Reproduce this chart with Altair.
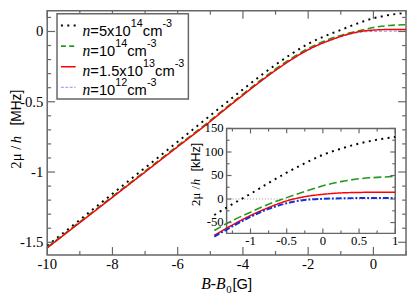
import altair as alt
import pandas as pd

# ---------------- data ----------------
B = [-10, -9, -8, -7, -6, -5, -4.5, -4, -3.5, -3, -2.5, -2, -1.5, -1.33, -1,
     -0.75, -0.5, -0.25, 0, 0.25, 0.5, 0.75, 1]
# 2mu/h in MHz
mu_5e14 = [-1.525, -1.34, -1.155, -0.97, -0.785, -0.598, -0.505, -0.412, -0.322,
           -0.237, -0.158, -0.088, -0.034, -0.018, 0.011, 0.034, 0.056, 0.076,
           0.094, 0.107, 0.118, 0.126, 0.132]
mu_1e14 = [-1.535, -1.354, -1.174, -0.994, -0.813, -0.633, -0.538, -0.445, -0.354,
           -0.267, -0.189, -0.121, -0.067, -0.052, -0.028, -0.011, 0.003, 0.016,
           0.028, 0.037, 0.043, 0.046, 0.048]
mu_15e13 = [-1.54, -1.36, -1.18, -1.0, -0.82, -0.64, -0.545, -0.453, -0.362,
            -0.276, -0.198, -0.13, -0.077, -0.062, -0.035, -0.018, -0.004, 0.005,
            0.010, 0.013, 0.014, 0.0145, 0.0145]
mu_1e12 = [-1.542, -1.362, -1.182, -1.002, -0.822, -0.642, -0.547, -0.455, -0.365,
           -0.279, -0.201, -0.133, -0.08, -0.065, -0.038, -0.021, -0.009, -0.002,
           0.0005, 0.0015, 0.002, 0.002, 0.002]
series = [mu_5e14, mu_1e14, mu_15e13, mu_1e12]
legend_mant = ["=5x10", "=10", "=1.5x10", "=10"]
legend_exp = ["14", "14", "13", "12"]

main_x_major = [-10, -8, -6, -4, -2, 0]
main_x_major_lab = ["-10", "-8", "-6", "-4", "-2", "0"]
main_x_minor = [-9, -7, -5, -3, -1, 1]
main_y_major = [-1.5, -1, -0.5, 0]
main_y_major_lab = ["-1.5", "-1", "-0.5", "0"]
main_y_minor = [-1.4, -1.3, -1.2, -1.1, -0.9, -0.8, -0.7, -0.6, -0.4, -0.3, -0.2, -0.1, 0.1]

in_x_major = [-1, -0.5, 0, 0.5, 1]
in_x_major_lab = ["-1", "-0.5", "0", "0.5", "1"]
in_x_minor = [-1.25, -0.75, -0.25, 0.25, 0.75]
in_y_major = [-50, 0, 50, 100, 150]
in_y_major_lab = ["-50", "0", "50", "100", "150"]
in_y_minor = [-25, 25, 75, 125]

# ---------------- styles ----------------
W, H = 366, 249
FRAME = "#666666"
SERIF = "Liberation Serif"
SANS = "Liberation Sans"
colors = ["#000000", "#1f9a1f", "#ff0000", "#8c8cff"]
dashes = [[2, 4.5], [7, 3.5], [1, 0], [3, 2]]
widths = [2, 1.6, 1.5, 1]
inset_colors = ["#000000", "#1f9a1f", "#ff0000", "#1030e0"]
inset_dashes = [[2, 4.5], [8, 3.5], [1, 0], [6, 2, 2, 2]]
inset_widths = [2, 1.6, 1.5, 2]

XM = alt.Scale(domain=[-10, 1], nice=False, zero=False)
YM = alt.Scale(domain=[-1.59, 0.147], nice=False, zero=False)
XI = alt.Scale(domain=[-1.33, 1], range=[183, 355], nice=False, zero=False)
YI = alt.Scale(domain=[-73, 150], range=[227, 120], nice=False, zero=False)

dummy = pd.DataFrame({"d": [0]})


def txt(s, x, y, size, font, style="normal", angle=0, align="left",
        baseline="alphabetic"):
    return alt.Chart(dummy).mark_text(
        text=s, font=font, fontSize=size, fontStyle=style, angle=angle,
        align=align, baseline=baseline, color="black"
    ).encode(x=alt.value(x), y=alt.value(y))


ARIAL = {"=": 0.584, ".": 0.278, "x": 0.5, "c": 0.5, "m": 0.833, "-": 0.333}


def sans_width(s, size):
    return sum(ARIAL.get(ch, 0.556) for ch in s) * size


def xticks(vals, scale, y0, y1):
    return alt.Chart(pd.DataFrame({"v": vals})).mark_rule(
        color=FRAME, strokeWidth=1.2).encode(
        x=alt.X("v:Q", scale=scale, axis=None), y=alt.value(y0), y2=alt.value(y1))


def yticks(vals, scale, x0, x1):
    return alt.Chart(pd.DataFrame({"v": vals})).mark_rule(
        color=FRAME, strokeWidth=1.2).encode(
        y=alt.Y("v:Q", scale=scale, axis=None), x=alt.value(x0), x2=alt.value(x1))


# ---------------- main panel ----------------
main_layers = []
for k in [0, 1, 3, 2]:
    df = pd.DataFrame({"B": B, "mu": series[k]})
    main_layers.append(
        alt.Chart(df).mark_line(color=colors[k], strokeDash=dashes[k],
                                strokeWidth=widths[k], interpolate="monotone",
                                clip=True)
        .encode(x=alt.X("B:Q", scale=XM, axis=None),
                y=alt.Y("mu:Q", scale=YM, axis=None))
    )

# ticks (inward, all four sides)
main_layers += [
    xticks(main_x_major, XM, H, H - 8), xticks(main_x_major, XM, 0, 8),
    xticks(main_x_minor, XM, H, H - 4), xticks(main_x_minor, XM, 0, 4),
    yticks(main_y_major, YM, 0, 8), yticks(main_y_major, YM, W, W - 8),
    yticks(main_y_minor, YM, 0, 4), yticks(main_y_minor, YM, W, W - 4),
]
main_layers.append(
    alt.Chart(pd.DataFrame({"v": main_x_major, "t": main_x_major_lab}))
    .mark_text(font=SERIF, fontSize=15, align="center", baseline="alphabetic")
    .encode(x=alt.X("v:Q", scale=XM, axis=None), y=alt.value(H + 14), text="t:N")
)
main_layers.append(
    alt.Chart(pd.DataFrame({"v": main_y_major, "t": main_y_major_lab}))
    .mark_text(font=SERIF, fontSize=15, align="right", baseline="middle")
    .encode(y=alt.Y("v:Q", scale=YM, axis=None), x=alt.value(-4), text="t:N")
)

# legend
main_layers.append(
    alt.Chart(dummy).mark_rect(fill="white", stroke=FRAME, strokeWidth=1.5)
    .encode(x=alt.value(10), x2=alt.value(144), y=alt.value(3), y2=alt.value(90))
)
sym_y = [15, 36, 57, 78]
base_y = [26, 46, 66, 86]
leg_colors = ["#000000", "#1f9a1f", "#ff0000", "#8c8cff"]
leg_dashes = [[2, 4.5], [5, 3.5], [1, 0], [3, 1.5]]
for k in range(4):
    main_layers.append(
        alt.Chart(dummy).mark_rule(color=leg_colors[k], strokeDash=leg_dashes[k],
                                   strokeWidth=widths[k])
        .encode(x=alt.value(14), x2=alt.value(29), y=alt.value(sym_y[k]))
    )
    yb = base_y[k]
    cx = 36
    main_layers.append(txt("n", cx, yb, 16, SERIF, style="italic"))
    cx += 8
    main_layers.append(txt(legend_mant[k], cx, yb, 15, SANS))
    cx += sans_width(legend_mant[k], 15)
    main_layers.append(txt(legend_exp[k], cx, yb - 9, 11, SANS))
    cx += sans_width(legend_exp[k], 11)
    main_layers.append(txt("cm", cx, yb, 15, SANS))
    cx += sans_width("cm", 15)
    main_layers.append(txt("-3", cx, yb - 9, 11, SANS))

# axis titles
TX = -27
main_layers += [
    txt("2\u03bc /", TX, 161, 15, SERIF, angle=270),
    txt("h", TX, 135, 15, SERIF, style="italic", angle=270),
    txt("[MHz]", TX, 117, 14, SANS, angle=270),
    txt("B-B", 157, 284, 16, SERIF, style="italic"),
    txt("0", 182.5, 288, 11, SERIF),
    txt("[G]", 189, 284, 15, SANS),
]

main = alt.layer(*main_layers)

# ---------------- inset ----------------
box = pd.DataFrame({"x0": [-1.33], "x1": [1], "y0": [-73], "y1": [150], "z": [0]})
inset_layers = [
    alt.Chart(box).mark_rect(fill="white", stroke=FRAME, strokeWidth=1.5)
    .encode(x=alt.X("x0:Q", scale=XI, axis=None), x2="x1:Q",
            y=alt.Y("y0:Q", scale=YI, axis=None), y2="y1:Q"),
    alt.Chart(box).mark_rule(color="#999999", strokeDash=[1, 2], strokeWidth=1)
    .encode(x=alt.X("x0:Q", scale=XI, axis=None), x2="x1:Q",
            y=alt.Y("z:Q", scale=YI, axis=None)),
]
for k in [0, 1, 2, 3]:
    bi = [b for b in B if b >= -1.5]
    vi = [v * 1000 for b, v in zip(B, series[k]) if b >= -1.5]
    df = pd.DataFrame({"B": bi, "mu": vi})
    inset_layers.append(
        alt.Chart(df).mark_line(color=inset_colors[k], strokeDash=inset_dashes[k],
                                strokeWidth=inset_widths[k], interpolate="monotone",
                                clip=True)
        .encode(x=alt.X("B:Q", scale=XI, axis=None),
                y=alt.Y("mu:Q", scale=YI, axis=None))
    )
inset_layers += [
    xticks(in_x_major, XI, 227, 222), xticks(in_x_major, XI, 120, 125),
    xticks(in_x_minor, XI, 227, 224), xticks(in_x_minor, XI, 120, 123),
    yticks(in_y_major, YI, 183, 188), yticks(in_y_major, YI, 355, 350),
    yticks(in_y_minor, YI, 183, 186), yticks(in_y_minor, YI, 355, 352),
    alt.Chart(pd.DataFrame({"v": in_x_major, "t": in_x_major_lab}))
    .mark_text(font=SERIF, fontSize=13, align="center", baseline="alphabetic")
    .encode(x=alt.X("v:Q", scale=XI, axis=None), y=alt.value(239), text="t:N"),
    alt.Chart(pd.DataFrame({"v": in_y_major, "t": in_y_major_lab}))
    .mark_text(font=SERIF, fontSize=13, align="right", baseline="middle")
    .encode(y=alt.Y("v:Q", scale=YI, axis=None), x=alt.value(180), text="t:N"),
    txt("2\u03bc /", 156, 199, 13, SERIF, angle=270),
    txt("h", 156, 178, 13, SERIF, style="italic", angle=270),
    txt("[kHz]", 156, 164, 13, SANS, angle=270),
]
inset = alt.layer(*inset_layers)

chart = (
    alt.layer(main, inset)
    .resolve_scale(x="independent", y="independent")
    .properties(width=W, height=H,
                autosize=alt.AutoSizeParams(type="none"),
                padding={"left": 40, "top": 0, "right": 1, "bottom": 39})
    .configure_view(stroke=FRAME, strokeWidth=1.5)
)

chart.save("out.html", embed_options={"renderer": "svg", "actions": False})
